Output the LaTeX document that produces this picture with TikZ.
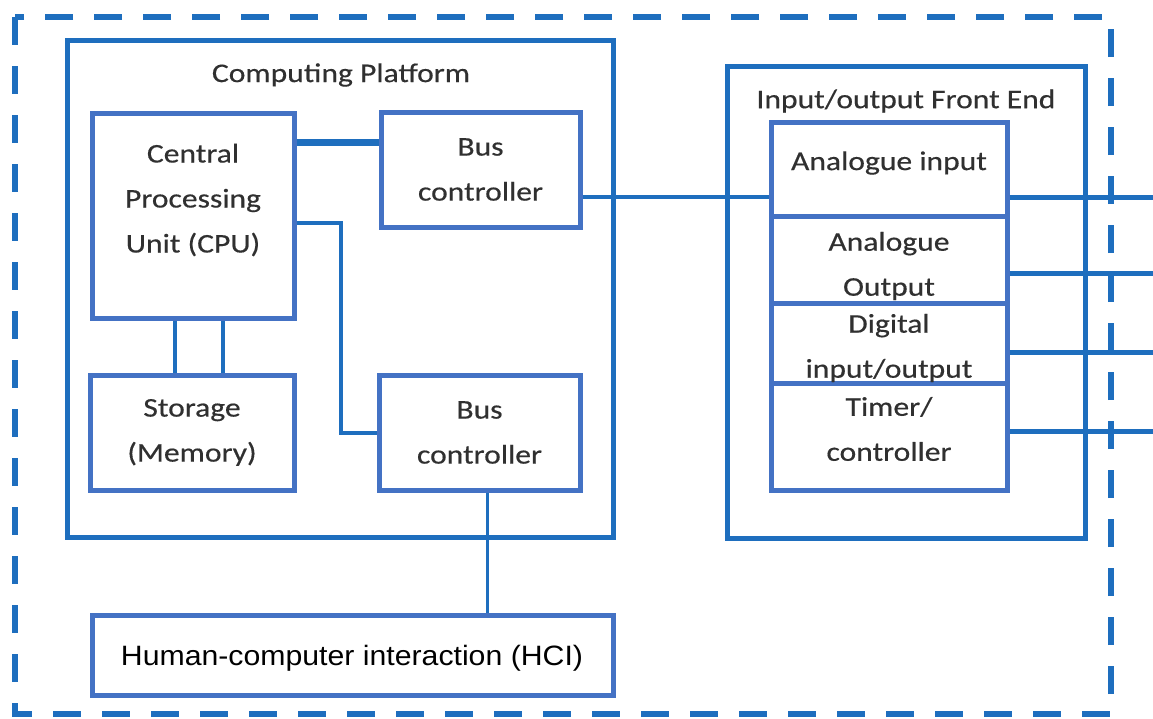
\documentclass[tikz,border=0pt]{standalone}
\usepackage{fontspec}
\setmainfont{Carlito}[FakeStretch=1.17, FakeBold=0.4]
\newfontfamily\hcifont{Liberation Sans}[FakeStretch=1.08]
\usetikzlibrary{calc}

\definecolor{wireblue}{RGB}{30,110,190}
\definecolor{boxblue}{RGB}{68,114,196}
\definecolor{inkgray}{RGB}{48,48,48}

\tikzset{
  frame/.style={draw=wireblue, line width=5pt, rectangle, inner sep=0pt},
  unit/.style={draw=boxblue, line width=5pt, rectangle, inner sep=0pt, fill=white},
  wire/.style={draw=wireblue, line width=4.5pt},
  label text/.style={text=inkgray, align=center, inner sep=0pt,
    font=\fontsize{27}{45}\selectfont},
}

\begin{document}
\begin{tikzpicture}[x=1pt, y=-1pt]
\useasboundingbox (0,0) rectangle (1153,718);

% system boundary
\draw[wireblue, line width=5.5pt, dash pattern=on 28pt off 21pt] (15,17) rectangle (1111,714);

% computing platform
\node[frame, minimum width=546pt, minimum height=497pt] (platform) at (340,288.5) {};
\node[label text] (platformtitle) at (341,75) {Computing Platform};

\node[unit, minimum width=202pt, minimum height=205pt] (cpu) at (193,215.5) {};
\node[label text] (cputext) at (193,200) {Central\\Processing\\Unit (CPU)};

\node[unit, minimum width=199pt, minimum height=115pt, label text] (bus1) at (480.5,169.5) {Bus\\controller};
\node[unit, minimum width=204pt, minimum height=115pt, label text] (storage) at (192,432.5) {Storage\\(Memory)};
\node[unit, minimum width=201pt, minimum height=115pt, label text] (bus2) at (479.5,432.5) {Bus\\controller};

% human-computer interaction
\node[unit, minimum width=521pt, minimum height=80pt] (hci) at (352.5,655) {};
\node[text=black, inner sep=0pt, font=\hcifont\fontsize{28}{34}\selectfont] (hcitext) at (352,658) {Human-computer interaction (HCI)};

% input/output front end
\node[frame, minimum width=358pt, minimum height=472pt] (io) at (906,302) {};
\node[label text] (iotitle) at (906,101) {Input/output Front End};

\node[unit, minimum width=236pt, minimum height=94pt] (ain) at (889,169) {};
\node[unit, minimum width=236pt, minimum height=87pt] (aout) at (889,259.5) {};
\node[unit, minimum width=236pt, minimum height=80pt] (dig) at (889,343) {};
\node[unit, minimum width=236pt, minimum height=107pt] (timer) at (889,436.5) {};
\node[label text] (aintext) at (889,163) {Analogue input};
\node[label text] (aouttext) at (889,266) {Analogue\\Output};
\node[label text] (digtext) at (889,348) {Digital\\input/output};
\node[label text] (timertext) at (889,429) {Timer/\\controller};

% external signal ends
\coordinate (outA) at (1153,197);
\coordinate (outB) at (1153,273);
\coordinate (outC) at (1153,352);
\coordinate (outD) at (1153,431);

% internal connections
\draw[wire, line width=6.5pt] ([yshift=-32pt]cpu.north east) -- ([yshift=-32pt]cpu.north east -| bus1.west);
\draw[wire, line width=4pt] ([yshift=-112pt]cpu.north east) -- ++(44,0) |- (bus2.west);
\draw[wire] ([xshift=-17pt]storage.north) -- ([xshift=-17pt]storage.north |- cpu.south);
\draw[wire] ([xshift=31pt]storage.north) -- ([xshift=31pt]storage.north |- cpu.south);
\draw[wire, line width=3pt] ([xshift=8pt]bus2.south) -- ([xshift=8pt]bus2.south |- hci.north);
\draw[wire] ([yshift=-27.5pt]bus1.east) -- ([yshift=-27.5pt]bus1.east -| ain.west);

% front end outputs
\draw[wire, line width=5pt] (ain.east |- outA) -- (outA);
\draw[wire, line width=5pt] (aout.east |- outB) -- (outB);
\draw[wire, line width=5pt] (dig.east |- outC) -- (outC);
\draw[wire, line width=5pt] (timer.east |- outD) -- (outD);
\end{tikzpicture}
\end{document}
